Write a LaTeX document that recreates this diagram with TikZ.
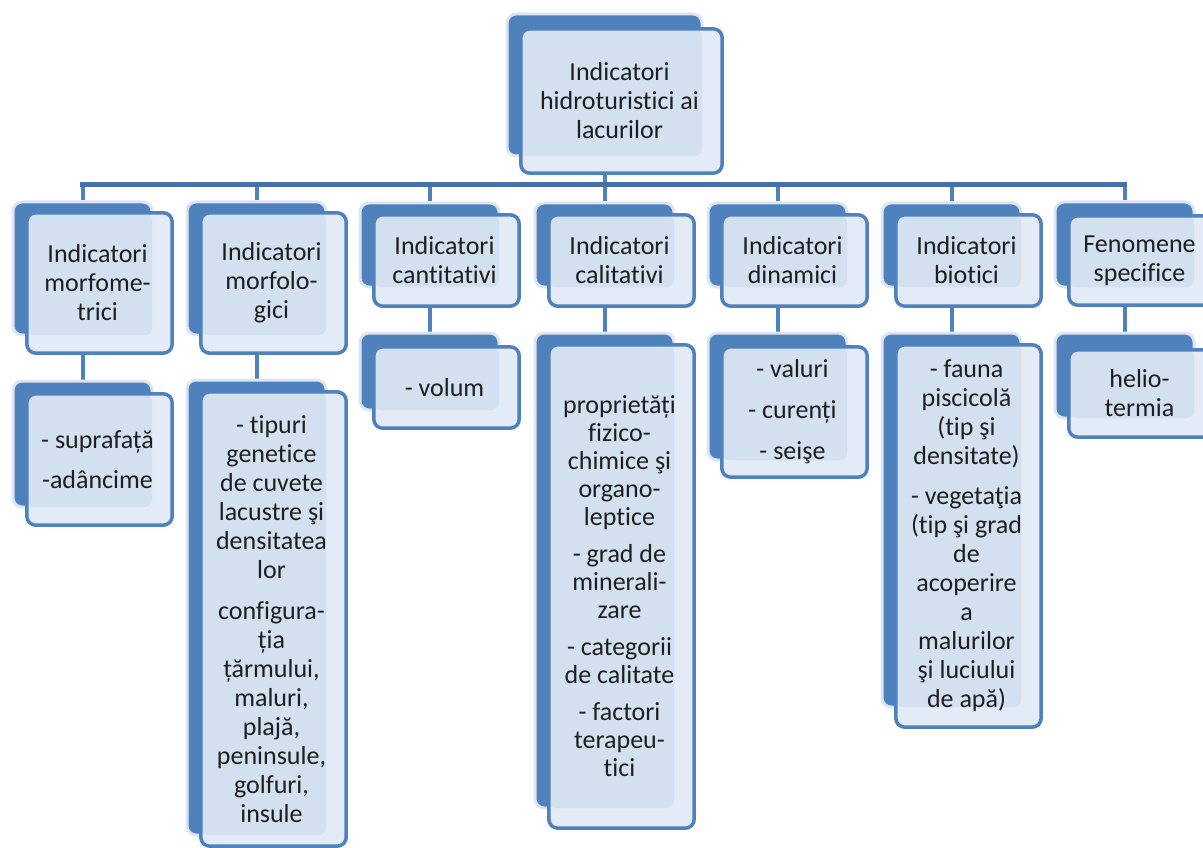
\documentclass[tikz,border=0pt]{standalone}
\usepackage{fontspec}
\setmainfont{Carlito}[Ligatures=NoCommon]
\usetikzlibrary{fit}
\pgfdeclarelayer{background}
\pgfsetlayers{background,main}
\definecolor{backblue}{HTML}{4F81BD}
\definecolor{barblue}{HTML}{4570AA}
\definecolor{halo}{HTML}{DCE6F2}
\definecolor{frontfill}{HTML}{E2EBF6}
\definecolor{overlapfill}{HTML}{D2E0F0}
\definecolor{textcol}{HTML}{1E1E1E}
\tikzset{
  backbox/.style={fill=backblue, draw=halo, line width=3pt, rounded corners=9pt, inner sep=0pt},
  frontbox/.style={fill=frontfill, inner sep=0pt, rounded corners=9pt},
  frontborder/.style={draw=backblue, line width=3.5pt, rounded corners=9pt},
  boxtext/.style={text=textcol, align=center, font=\fontsize{26}{29}\selectfont, inner sep=0pt},
  wire/.style={draw=backblue, line width=4pt},
  mainbar/.style={draw=barblue, line width=5pt, line cap=rect},
}
% #1 name, #2 x, #3 width, #4 back top, #5 back bottom, #6 front top, #7 front bottom, #8 text
\newcommand{\unitbox}[8]{%
  \node[backbox, fit={(#2,#4) (#2+#3,#5)}] (#1b) {};
  \node[frontbox, fit={(#2+14,#6) (#2+#3+20,#7)}] (#1f) {};
  \fill[overlapfill, rounded corners=7pt] (#2+14,#6) rectangle (#2+#3,#5);
  \draw[frontborder] (#1f.north west) rectangle (#1f.south east);
  \node[boxtext] (#1t) at ({#2+#3/2+15},{(#6+#7)/2}) {#8};
}
\begin{document}
\begin{tikzpicture}[x=1pt,y=-1pt]
\path[use as bounding box] (0,0) rectangle (1203,848);
\clip (0,0) rectangle (1203,848);
% root
\unitbox{root}{507}{195}{14}{156}{29}{173}{Indicatori\\hidroturistici ai\\lacurilor}
% level 1
\unitbox{c1}{13}{139}{202}{335}{213}{353}{Indicatori\\morfome-\\trici}
\unitbox{c2}{187}{139}{202}{335}{213}{353}{Indicatori\\morfolo-\\gici}
\unitbox{c3}{360}{139}{203}{287}{215}{306}{Indicatori\\cantitativi}
\unitbox{c4}{535}{139}{203}{287}{215}{306}{Indicatori\\calitativi}
\unitbox{c5}{708}{139}{203}{287}{215}{306}{Indicatori\\dinamici}
\unitbox{c6}{882}{139}{203}{287}{215}{306}{Indicatori\\biotici}
\unitbox{c7}{1055}{139}{202}{287}{216}{305}{Fenomene\\specifice}
% level 2
\unitbox{d1}{13}{139}{381}{507}{394}{525}{- suprafață\\[11pt]-adâncime}
\unitbox{d2}{187}{139}{380}{835}{392}{846}{- tipuri\\genetice\\de cuvete\\lacustre şi\\densitatea\\lor\\[12pt]configura-\\ția\\țărmului,\\maluri,\\plajă,\\peninsule,\\golfuri,\\insule}
\unitbox{d3}{360}{139}{333}{410}{347}{428}{- volum}
\unitbox{d4}{535}{139}{333}{808}{345}{828}{proprietăți\\[-1pt]fizico-\\[-1pt]chimice şi\\[-1pt]organo-\\[-1pt]leptice\\[8pt]- grad de\\[-1pt]minerali-\\[-1pt]zare\\[8pt]- categorii\\[-1pt]de calitate\\[8pt]- factori\\[-1pt]terapeu-\\[-1pt]tici}
\unitbox{d5}{708}{139}{333}{460}{347}{477}{- valuri\\[12pt]- curenți\\[12pt]- seişe}
\unitbox{d6}{882}{139}{333}{707}{345}{727}{- fauna\\piscicolă\\(tip şi\\densitate)\\[11pt]- vegetaţia\\(tip şi grad\\de\\acoperire\\a\\malurilor\\şi luciului\\de apă)}
\unitbox{d7}{1055}{139}{333}{418}{350}{437}{helio-\\termia}
% connectors
\coordinate (bary) at (0,185);
\begin{pgfonlayer}{background}
  \draw[wire] (rootb.south) -- (rootb.south |- bary);
  \foreach \i in {1,...,7} {
    \draw[wire] (c\i b.north) -- (c\i b.north |- bary);
    \draw[wire] (c\i b.south) -- (d\i b.north);
  }
  \draw[mainbar] (c1b.north |- bary) -- (c7b.north |- bary);
\end{pgfonlayer}
\end{tikzpicture}
\end{document}
